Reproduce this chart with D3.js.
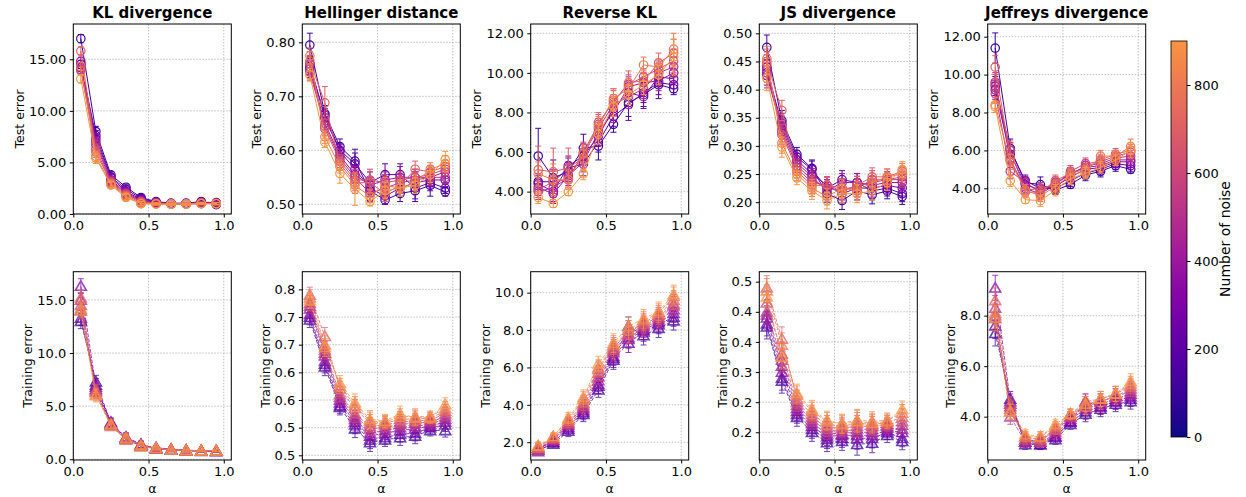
<!DOCTYPE html>
<html>
<head>
<script src="https://d3js.org/d3.v7.min.js"></script>
<style>
  body { margin: 0; background: #fff; }
  text { font-family: "DejaVu Sans", sans-serif; }
</style>
</head>
<body>
<script>

const width = 1246;
const height = 497;

const alpha = [0.05, 0.15, 0.25, 0.35, 0.45, 0.55, 0.65, 0.75, 0.85, 0.95];
const noiseLevels = [100, 200, 300, 400, 500, 600, 700, 800, 900];

// each row = one alpha value, columns follow noiseLevels
// error arrays: either one value per alpha, or one row of 9 per alpha
const klTest = [
  [17.0, 14.5, 14.2, 14.8, 14.0, 13.9, 15.8, 14.3, 13.1],
  [8.0, 7.6, 7.3, 7.0, 6.7, 6.3, 6.0, 5.6, 5.4],
  [3.8, 3.6, 3.5, 3.3, 3.2, 3.1, 3.0, 2.9, 2.8],
  [2.6, 2.4, 2.2, 2.1, 2.0, 1.9, 1.8, 1.7, 1.6],
  [1.6, 1.5, 1.4, 1.3, 1.2, 1.2, 1.1, 1.0, 1.0],
  [1.2, 1.15, 1.1, 1.1, 1.05, 1.0, 1.0, 1.0, 0.95],
  [1.05, 1.0, 1.0, 1.0, 0.98, 0.98, 0.97, 0.96, 0.95],
  [1.05, 1.0, 1.0, 1.0, 1.0, 0.98, 0.98, 0.97, 0.95],
  [1.2, 1.15, 1.1, 1.1, 1.05, 1.0, 1.05, 1.0, 1.0],
  [0.9, 1.1, 1.05, 1.0, 1.05, 1.0, 1.0, 1.0, 1.0]
];
const klTestErr = [0.4, 0.5, 0.3, 0.3, 0.2, 0.1, 0.1, 0.1, 0.1, 0.1];

const hellTest = [
  [0.795, 0.755, 0.76, 0.75, 0.745, 0.76, 0.765, 0.775, 0.74],
  [0.668, 0.665, 0.66, 0.65, 0.645, 0.64, 0.688, 0.625, 0.615],
  [0.607, 0.60, 0.598, 0.59, 0.585, 0.58, 0.575, 0.57, 0.557],
  [0.58, 0.575, 0.565, 0.555, 0.55, 0.545, 0.54, 0.535, 0.528],
  [0.525, 0.54, 0.53, 0.535, 0.52, 0.545, 0.54, 0.515, 0.505],
  [0.508, 0.555, 0.515, 0.545, 0.53, 0.54, 0.52, 0.535, 0.525],
  [0.52, 0.555, 0.53, 0.55, 0.54, 0.545, 0.535, 0.53, 0.53],
  [0.525, 0.53, 0.54, 0.55, 0.545, 0.55, 0.565, 0.54, 0.535],
  [0.535, 0.54, 0.545, 0.55, 0.55, 0.555, 0.56, 0.565, 0.555],
  [0.523, 0.53, 0.545, 0.56, 0.55, 0.565, 0.57, 0.575, 0.583]
];
const hellTestErr = [
  [0.022, 0.015, 0.015, 0.015, 0.015, 0.015, 0.018, 0.015, 0.012],
  [0.015, 0.012, 0.012, 0.012, 0.012, 0.012, 0.03, 0.012, 0.01],
  [0.014, 0.012, 0.012, 0.012, 0.012, 0.012, 0.012, 0.012, 0.018],
  [0.022, 0.02, 0.015, 0.015, 0.015, 0.015, 0.015, 0.015, 0.03],
  [0.018, 0.02, 0.015, 0.015, 0.015, 0.02, 0.02, 0.012, 0.008],
  [0.008, 0.02, 0.015, 0.015, 0.015, 0.015, 0.015, 0.015, 0.015],
  [0.015, 0.02, 0.015, 0.02, 0.015, 0.015, 0.015, 0.015, 0.015],
  [0.02, 0.02, 0.02, 0.015, 0.015, 0.015, 0.015, 0.015, 0.015],
  [0.02, 0.015, 0.015, 0.015, 0.015, 0.012, 0.012, 0.012, 0.015],
  [0.008, 0.01, 0.012, 0.012, 0.012, 0.012, 0.012, 0.015, 0.015]
];

const revklTest = [
  [5.8, 4.5, 4.4, 4.2, 4.0, 4.1, 5.1, 4.9, 3.7],
  [4.7, 4.5, 4.0, 3.9, 4.2, 4.5, 5.0, 4.6, 3.4],
  [5.0, 5.2, 5.3, 4.8, 4.7, 4.6, 5.2, 4.6, 4.0],
  [6.2, 5.4, 5.8, 5.5, 5.9, 6.0, 5.7, 5.9, 4.9],
  [6.3, 6.5, 6.8, 7.0, 7.2, 7.4, 7.5, 7.3, 6.9],
  [7.4, 7.8, 8.2, 8.0, 8.4, 8.6, 8.5, 8.7, 8.3],
  [8.5, 8.4, 9.0, 9.3, 8.8, 9.4, 9.5, 9.2, 8.9],
  [8.9, 9.0, 8.8, 9.5, 9.2, 9.8, 9.6, 10.4, 9.4],
  [9.4, 9.5, 9.8, 9.6, 10.0, 10.2, 10.5, 10.3, 9.9],
  [9.2, 9.4, 9.7, 10.0, 10.3, 10.6, 11.0, 11.2, 10.8]
];
const revklTestErr = [
  [1.4, 0.4, 0.4, 0.4, 0.4, 0.4, 1.2, 0.6, 0.3],
  [0.9, 0.6, 0.5, 0.5, 0.5, 0.6, 1.2, 0.8, 0.2],
  [0.5, 0.5, 0.5, 0.5, 0.4, 0.4, 1.0, 0.5, 0.2],
  [0.7, 0.6, 0.6, 0.5, 0.5, 0.5, 0.6, 0.5, 0.3],
  [0.7, 0.5, 0.5, 0.5, 0.5, 0.5, 0.5, 0.5, 0.5],
  [0.4, 0.5, 0.6, 0.5, 0.5, 0.5, 0.7, 0.5, 0.5],
  [0.7, 0.8, 0.6, 0.5, 0.6, 0.5, 0.6, 0.5, 0.5],
  [0.6, 0.5, 0.6, 0.5, 0.5, 0.4, 0.5, 0.4, 0.5],
  [0.7, 0.6, 0.5, 0.5, 0.5, 0.4, 0.5, 0.4, 0.5],
  [0.3, 0.4, 0.5, 0.5, 0.5, 0.6, 0.7, 0.8, 0.9]
];

const jsTest = [
  [0.475, 0.43, 0.44, 0.425, 0.435, 0.445, 0.45, 0.455, 0.42],
  [0.345, 0.34, 0.335, 0.33, 0.325, 0.32, 0.363, 0.305, 0.298],
  [0.285, 0.28, 0.275, 0.27, 0.265, 0.26, 0.255, 0.25, 0.243],
  [0.26, 0.258, 0.25, 0.245, 0.24, 0.235, 0.23, 0.225, 0.22],
  [0.215, 0.225, 0.23, 0.22, 0.225, 0.23, 0.23, 0.21, 0.203],
  [0.203, 0.24, 0.215, 0.235, 0.22, 0.225, 0.22, 0.225, 0.215],
  [0.22, 0.235, 0.225, 0.235, 0.23, 0.225, 0.23, 0.22, 0.215],
  [0.213, 0.22, 0.225, 0.23, 0.235, 0.24, 0.245, 0.235, 0.22],
  [0.22, 0.225, 0.23, 0.235, 0.24, 0.24, 0.245, 0.245, 0.235],
  [0.21, 0.215, 0.225, 0.235, 0.24, 0.245, 0.255, 0.25, 0.258]
];
const jsTestErr = [0.022, 0.018, 0.012, 0.015, 0.015, 0.016, 0.016, 0.016, 0.014, 0.014];

const jeffTest = [
  [11.4, 9.4, 9.2, 9.6, 9.0, 9.5, 10.4, 8.4, 8.3],
  [6.1, 6.0, 5.8, 5.5, 4.9, 6.0, 5.6, 5.4, 4.4],
  [4.3, 4.4, 4.2, 4.0, 4.3, 3.9, 3.8, 3.9, 3.4],
  [4.2, 4.0, 3.9, 3.7, 3.8, 4.0, 3.8, 3.6, 3.35],
  [3.9, 4.0, 4.1, 4.2, 4.3, 4.2, 4.4, 4.1, 3.9],
  [4.2, 4.4, 4.6, 4.8, 4.7, 4.9, 4.8, 4.7, 4.5],
  [4.7, 4.8, 5.0, 5.1, 5.2, 5.3, 5.0, 4.9, 4.8],
  [4.9, 5.0, 5.1, 5.2, 5.3, 5.4, 5.5, 5.7, 5.1],
  [5.2, 5.3, 5.4, 5.5, 5.6, 5.7, 5.8, 5.7, 5.5],
  [5.0, 5.2, 5.4, 5.5, 5.7, 5.9, 6.0, 6.2, 6.0]
];
const jeffTestErr = [
  [0.8, 0.5, 0.5, 0.5, 0.5, 0.5, 0.6, 0.4, 0.3],
  [0.5, 0.4, 0.4, 0.4, 0.4, 0.4, 0.9, 0.4, 0.3],
  [0.3, 0.3, 0.3, 0.3, 0.3, 0.3, 0.3, 0.3, 0.2],
  [0.4, 0.3, 0.3, 0.3, 0.3, 0.3, 0.3, 0.3, 0.3],
  [0.2, 0.3, 0.3, 0.3, 0.3, 0.3, 0.3, 0.3, 0.3],
  [0.2, 0.3, 0.3, 0.3, 0.3, 0.3, 0.3, 0.3, 0.3],
  [0.3, 0.3, 0.3, 0.3, 0.3, 0.3, 0.3, 0.3, 0.3],
  [0.3, 0.3, 0.3, 0.3, 0.3, 0.3, 0.3, 0.3, 0.3],
  [0.3, 0.3, 0.3, 0.3, 0.3, 0.3, 0.3, 0.3, 0.3],
  [0.2, 0.3, 0.3, 0.3, 0.3, 0.3, 0.3, 0.4, 0.4]
];

const klTrain = [
  [13.0, 13.3, 16.3, 14.0, 15.0, 14.5, 15.2, 14.2, 14.0],
  [7.3, 7.0, 6.8, 6.6, 6.5, 6.3, 6.4, 6.1, 6.0],
  [3.4, 3.3, 3.5, 3.3, 3.2, 3.3, 3.2, 3.1, 3.3],
  [1.9, 2.1, 2.0, 2.0, 1.9, 2.0, 1.8, 1.9, 2.0],
  [1.3, 1.4, 1.3, 1.4, 1.3, 1.2, 1.3, 1.2, 1.3],
  [1.0, 1.0, 1.1, 1.0, 1.05, 1.0, 1.0, 1.0, 1.05],
  [0.9, 0.9, 0.95, 0.9, 0.9, 0.9, 0.9, 0.9, 0.9],
  [0.8, 0.85, 0.85, 0.8, 0.8, 0.85, 0.8, 0.8, 0.85],
  [0.75, 0.8, 0.8, 0.8, 0.8, 0.8, 0.8, 0.8, 0.8],
  [0.75, 0.75, 0.8, 0.75, 0.8, 0.8, 0.8, 0.8, 0.8]
];
const klTrainErr = [0.7, 0.6, 0.4, 0.4, 0.3, 0.15, 0.1, 0.1, 0.1, 0.1];

const hellTrain = [
  [0.745, 0.75, 0.755, 0.765, 0.77, 0.775, 0.79, 0.785, 0.78],
  [0.66, 0.665, 0.67, 0.68, 0.685, 0.69, 0.715, 0.70, 0.695],
  [0.587, 0.59, 0.595, 0.60, 0.605, 0.61, 0.62, 0.625, 0.63],
  [0.548, 0.555, 0.56, 0.565, 0.57, 0.575, 0.585, 0.59, 0.595],
  [0.523, 0.528, 0.535, 0.54, 0.548, 0.552, 0.558, 0.562, 0.565],
  [0.528, 0.532, 0.54, 0.545, 0.55, 0.555, 0.558, 0.56, 0.562],
  [0.532, 0.538, 0.545, 0.55, 0.556, 0.56, 0.565, 0.57, 0.575],
  [0.535, 0.54, 0.548, 0.552, 0.558, 0.562, 0.566, 0.57, 0.568],
  [0.545, 0.55, 0.553, 0.557, 0.56, 0.564, 0.567, 0.57, 0.568],
  [0.545, 0.555, 0.56, 0.565, 0.57, 0.575, 0.58, 0.585, 0.592]
];
const hellTrainErr = [0.014, 0.016, 0.014, 0.016, 0.016, 0.012, 0.014, 0.014, 0.01, 0.012];

const revklTrain = [
  [1.6, 1.7, 1.5, 1.6, 1.7, 1.6, 1.8, 1.7, 1.8],
  [1.9, 2.0, 2.0, 2.1, 2.1, 2.2, 2.2, 2.3, 2.3],
  [2.6, 2.7, 2.8, 2.9, 3.0, 3.0, 3.1, 3.2, 3.3],
  [3.5, 3.6, 3.7, 3.8, 3.9, 4.0, 4.1, 4.3, 4.4],
  [4.8, 5.0, 5.1, 5.3, 5.5, 5.7, 5.9, 6.0, 6.2],
  [6.4, 6.5, 6.6, 6.8, 6.9, 7.0, 7.1, 7.2, 7.3],
  [8.2, 7.3, 7.5, 7.6, 7.8, 8.0, 7.8, 8.0, 8.2],
  [7.7, 7.9, 8.0, 8.1, 8.2, 8.3, 8.4, 8.5, 8.6],
  [8.1, 8.3, 8.4, 8.5, 8.6, 8.7, 8.8, 8.9, 9.0],
  [8.5, 8.7, 8.9, 9.1, 9.3, 9.4, 9.6, 9.8, 9.9]
];
const revklTrainErr = [0.2, 0.2, 0.3, 0.4, 0.4, 0.5, 0.5, 0.5, 0.5, 0.5];

const jsTrain = [
  [0.375, 0.38, 0.39, 0.395, 0.40, 0.415, 0.44, 0.435, 0.425],
  [0.285, 0.29, 0.30, 0.31, 0.32, 0.33, 0.355, 0.345, 0.325],
  [0.225, 0.23, 0.235, 0.24, 0.245, 0.25, 0.255, 0.262, 0.265],
  [0.20, 0.205, 0.21, 0.215, 0.22, 0.225, 0.23, 0.235, 0.238],
  [0.183, 0.188, 0.193, 0.198, 0.203, 0.208, 0.213, 0.218, 0.22],
  [0.185, 0.19, 0.195, 0.198, 0.202, 0.207, 0.21, 0.215, 0.213],
  [0.18, 0.19, 0.195, 0.2, 0.205, 0.21, 0.215, 0.22, 0.218],
  [0.182, 0.19, 0.195, 0.2, 0.205, 0.21, 0.213, 0.218, 0.215],
  [0.195, 0.2, 0.203, 0.207, 0.21, 0.213, 0.216, 0.22, 0.218],
  [0.185, 0.19, 0.2, 0.205, 0.212, 0.218, 0.225, 0.232, 0.238]
];
const jsTrainErr = [0.02, 0.02, 0.015, 0.015, 0.015, 0.015, 0.018, 0.016, 0.012, 0.014];

const jeffTrain = [
  [7.3, 7.6, 9.1, 7.9, 8.3, 8.0, 8.6, 8.1, 7.9],
  [4.7, 4.5, 4.6, 4.4, 4.0, 4.3, 4.5, 4.2, 4.2],
  [2.9, 3.0, 3.0, 3.1, 3.0, 3.1, 3.2, 3.2, 3.3],
  [2.9, 2.9, 3.0, 3.0, 3.1, 3.0, 3.1, 3.2, 3.2],
  [3.1, 3.2, 3.2, 3.3, 3.4, 3.5, 3.5, 3.6, 3.7],
  [3.7, 3.8, 3.8, 3.9, 4.0, 4.0, 4.1, 4.1, 4.1],
  [4.1, 4.2, 4.6, 4.3, 4.4, 4.5, 4.6, 4.4, 4.5],
  [4.3, 4.4, 4.4, 4.5, 4.6, 4.6, 4.7, 4.7, 4.7],
  [4.5, 4.6, 4.6, 4.7, 4.8, 4.8, 4.9, 4.9, 4.9],
  [4.6, 4.7, 4.8, 4.9, 5.0, 5.1, 5.2, 5.3, 5.4]
];
const jeffTrainErr = [0.5, 0.3, 0.2, 0.2, 0.2, 0.2, 0.3, 0.3, 0.3, 0.3];

const titles = ["KL divergence", "Hellinger distance", "Reverse KL", "JS divergence", "Jeffreys divergence"];
const xTicks = [0, 0.5, 1.0];
const cbarTicks = [0, 200, 400, 600, 800];

// panels: row 0 = test error, row 1 = training error
const panels = [
  { row: 0, col: 0, values: klTest, err: klTestErr, domain: [0, 18.42],
    ticks: [0, 5, 10, 15], labels: ["0.00", "5.00", "10.00", "15.00"] },
  { row: 0, col: 1, values: hellTest, err: hellTestErr, domain: [0.482, 0.834],
    ticks: [0.5, 0.6, 0.7, 0.8], labels: ["0.50", "0.60", "0.70", "0.80"] },
  { row: 0, col: 2, values: revklTest, err: revklTestErr, domain: [2.87, 12.47],
    ticks: [4, 6, 8, 10, 12], labels: ["4.00", "6.00", "8.00", "10.00", "12.00"] },
  { row: 0, col: 3, values: jsTest, err: jsTestErr, domain: [0.179, 0.5166],
    ticks: [0.2, 0.25, 0.3, 0.35, 0.4, 0.45, 0.5],
    labels: ["0.20", "0.25", "0.30", "0.35", "0.40", "0.45", "0.50"] },
  { row: 0, col: 4, values: jeffTest, err: jeffTestErr, domain: [2.645, 12.67],
    ticks: [4, 6, 8, 10, 12], labels: ["4.00", "6.00", "8.00", "10.00", "12.00"] },
  { row: 1, col: 0, values: klTrain, err: klTrainErr, domain: [-0.07, 17.66],
    ticks: [0, 5, 10, 15], labels: ["0.0", "5.0", "10.0", "15.0"] },
  { row: 1, col: 1, values: hellTrain, err: hellTrainErr, domain: [0.4915, 0.832],
    ticks: [0.5, 0.55, 0.6, 0.65, 0.7, 0.75, 0.8],
    labels: ["0.5", "0.5", "0.6", "0.6", "0.7", "0.7", "0.8"] },
  { row: 1, col: 2, values: revklTrain, err: revklTrainErr, domain: [1.05, 11.12],
    ticks: [2, 4, 6, 8, 10], labels: ["2.0", "4.0", "6.0", "8.0", "10.0"] },
  { row: 1, col: 3, values: jsTrain, err: jsTrainErr, domain: [0.154, 0.4666],
    ticks: [0.2, 0.25, 0.3, 0.35, 0.4, 0.45], labels: ["0.2", "0.2", "0.3", "0.4", "0.4", "0.5"] },
  { row: 1, col: 4, values: jeffTrain, err: jeffTrainErr, domain: [2.285, 9.74],
    ticks: [4, 6, 8], labels: ["4.0", "6.0", "8.0"] }
];

const colLeft = [73.3, 302.3, 530.7, 759.3, 987.7];
const panelW = 158;
const rowTop = [24, 271.7];
const rowBottom = [214, 460];

const color = d3.scaleSequential(t => d3.interpolatePlasma(t * 0.75)).domain([0, 900]);
const errAt = (err, i, s) => Array.isArray(err[i]) ? err[i][s] : err[i];

const svg = d3.select("body").append("svg")
  .attr("width", width)
  .attr("height", height)
  .style("background", "#fff");

panels.forEach(p => {
  const left = colLeft[p.col];
  const x = d3.scaleLinear().domain([0, 1.05]).range([left, left + panelW]);
  const y = d3.scaleLinear().domain(p.domain).range([rowBottom[p.row], rowTop[p.row]]);
  const g = svg.append("g");

  // grid
  g.append("g").selectAll("line").data(xTicks).join("line")
    .attr("x1", d => x(d)).attr("x2", d => x(d))
    .attr("y1", y.range()[1]).attr("y2", y.range()[0])
    .attr("stroke", "#b0b0b0").attr("stroke-width", 0.8).attr("stroke-dasharray", "1.5,1.5");
  g.append("g").selectAll("line").data(p.ticks).join("line")
    .attr("x1", x.range()[0]).attr("x2", x.range()[1])
    .attr("y1", d => y(d)).attr("y2", d => y(d))
    .attr("stroke", "#b0b0b0").attr("stroke-width", 0.8).attr("stroke-dasharray", "1.5,1.5");

  const isTest = p.row === 0;
  const line = d3.line().x((d, i) => x(alpha[i])).y(d => y(d));

  noiseLevels.forEach((n, s) => {
    const c = color(n);
    const series = p.values.map(r => r[s]);
    const sg = g.append("g").attr("opacity", isTest ? 1 : 0.75);

    // error bars
    const eb = sg.append("g").attr("stroke", c).attr("stroke-width", 1);
    series.forEach((v, i) => {
      const e = errAt(p.err, i, s);
      const xi = x(alpha[i]), lo = y(v - e), hi = y(v + e);
      eb.append("line").attr("x1", xi).attr("x2", xi).attr("y1", lo).attr("y2", hi);
      eb.append("line").attr("x1", xi - 3).attr("x2", xi + 3).attr("y1", lo).attr("y2", lo);
      eb.append("line").attr("x1", xi - 3).attr("x2", xi + 3).attr("y1", hi).attr("y2", hi);
    });

    sg.append("path").datum(series)
      .attr("d", line)
      .attr("fill", "none")
      .attr("stroke", c)
      .attr("stroke-width", 1)
      .attr("stroke-dasharray", isTest ? null : "3.7,1.6");

    if (isTest) {
      sg.selectAll("circle.m").data(series).join("circle")
        .attr("cx", (d, i) => x(alpha[i])).attr("cy", d => y(d))
        .attr("r", 4.2)
        .attr("fill", "none").attr("stroke", c).attr("stroke-width", 1.2);
    } else {
      sg.selectAll("path.m").data(series).join("path")
        .attr("class", "m")
        .attr("transform", (d, i) => `translate(${x(alpha[i])},${y(d) + 1})`)
        .attr("d", d3.symbol(d3.symbolTriangle, 52)())
        .attr("fill", "none").attr("stroke", c).attr("stroke-width", 1.6);
    }
  });

  // spines
  g.append("rect")
    .attr("x", left).attr("y", rowTop[p.row])
    .attr("width", panelW).attr("height", rowBottom[p.row] - rowTop[p.row])
    .attr("fill", "none").attr("stroke", "#000").attr("stroke-width", 1);

  // axes
  const yAxis = g.append("g")
    .attr("transform", `translate(${left},0)`)
    .call(d3.axisLeft(y).tickValues(p.ticks).tickFormat((d, i) => p.labels[i])
      .tickSize(3.5).tickPadding(3.5));
  yAxis.select(".domain").remove();
  yAxis.selectAll("text").attr("font-size", 13).attr("fill", "#000")
    .attr("font-family", "DejaVu Sans, sans-serif");

  const xAxis = g.append("g")
    .attr("transform", `translate(0,${rowBottom[p.row]})`)
    .call(d3.axisBottom(x).tickValues(xTicks).tickFormat(d3.format(".1f"))
      .tickSize(3.5).tickPadding(3.5));
  xAxis.select(".domain").remove();
  xAxis.selectAll("text").attr("font-size", 13).attr("fill", "#000")
    .attr("font-family", "DejaVu Sans, sans-serif");

  const bb = yAxis.node().getBBox();
  const midY = (rowTop[p.row] + rowBottom[p.row]) / 2;
  g.append("text")
    .attr("transform", `translate(${left + bb.x - 5},${midY}) rotate(-90)`)
    .attr("text-anchor", "middle")
    .attr("font-size", 12.5)
    .text(isTest ? "Test error" : "Training error");

  if (isTest) {
    g.append("text")
      .attr("x", left + panelW / 2).attr("y", 18)
      .attr("text-anchor", "middle")
      .attr("font-size", 15).attr("font-weight", "bold")
      .text(titles[p.col]);
  } else {
    g.append("text")
      .attr("x", left + panelW / 2).attr("y", 493)
      .attr("text-anchor", "middle")
      .attr("font-size", 12.5)
      .text("α");
  }
});

// colorbar
const cbX = 1171, cbW = 16, cbTop = 41, cbBottom = 437;
const cy = d3.scaleLinear().domain([0, 900]).range([cbBottom, cbTop]);
const grad = svg.append("defs").append("linearGradient")
  .attr("id", "cbar").attr("x1", 0).attr("y1", 1).attr("x2", 0).attr("y2", 0);
d3.range(0, 901, 30).forEach(v => {
  grad.append("stop").attr("offset", v / 900).attr("stop-color", color(v));
});
svg.append("rect")
  .attr("x", cbX).attr("y", cbTop).attr("width", cbW).attr("height", cbBottom - cbTop)
  .attr("fill", "url(#cbar)").attr("stroke", "#000").attr("stroke-width", 0.8);
const cAxis = svg.append("g")
  .attr("transform", `translate(${cbX + cbW},0)`)
  .call(d3.axisRight(cy).tickValues(cbarTicks).tickSize(3.5).tickPadding(3.5));
cAxis.select(".domain").remove();
cAxis.selectAll("text").attr("font-size", 13).attr("fill", "#000")
  .attr("font-family", "DejaVu Sans, sans-serif");
svg.append("text")
  .attr("transform", `translate(1230,${(cbTop + cbBottom) / 2}) rotate(-90)`)
  .attr("text-anchor", "middle")
  .attr("font-size", 14)
  .text("Number of noise");

</script>
</body>
</html>
